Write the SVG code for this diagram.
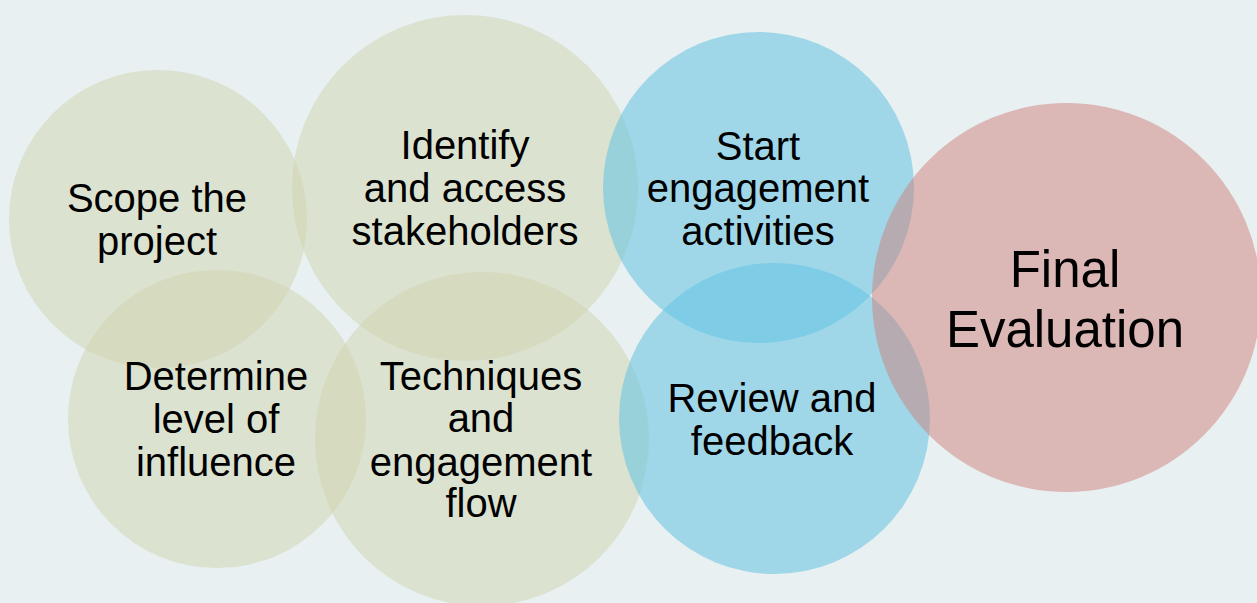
<svg xmlns="http://www.w3.org/2000/svg" width="1257" height="603" viewBox="0 0 1257 603">
<style>
.g{fill:#D0D4AE;fill-opacity:0.5}
.b{fill:#62C2E2;fill-opacity:0.55}
.p{fill:#CE807A;fill-opacity:0.5}
text{font-family:"Liberation Sans",Arial,sans-serif;font-size:40px;fill:#000;text-anchor:middle}
.big{font-size:51px}
</style>
<rect width="1257" height="603" fill="#E8F0F2"/>
<g id="scope"><circle class="g" cx="158" cy="219" r="149"/></g>
<g id="identify"><circle class="g" cx="465" cy="188" r="173"/></g>
<g id="determine"><circle class="g" cx="217" cy="419" r="149"/></g>
<g id="techniques"><circle class="g" cx="482" cy="439" r="167"/></g>
<g id="start"><circle class="b" cx="758.5" cy="187.5" r="155.5"/></g>
<g id="review"><circle class="b" cx="774.5" cy="418.5" r="155.5"/></g>
<g id="final"><circle class="p" cx="1066.5" cy="297.5" r="194.5"/></g>
<g id="labels">
<text x="157" y="212">Scope the</text>
<text x="157" y="255">project</text>
<text x="465" y="159">Identify</text>
<text x="465" y="202">and access</text>
<text x="465" y="245">stakeholders</text>
<text x="758" y="160">Start</text>
<text x="758" y="202">engagement</text>
<text x="758" y="245">activities</text>
<text x="216" y="390">Determine</text>
<text x="216" y="433">level of</text>
<text x="216" y="476">influence</text>
<text x="481" y="390">Techniques</text>
<text x="481" y="432">and</text>
<text x="481" y="476">engagement</text>
<text x="481" y="517">flow</text>
<text x="772" y="412">Review and</text>
<text x="772" y="455">feedback</text>
<text class="big" x="1065" y="287">Final</text>
<text class="big" x="1065" y="347">Evaluation</text>
</g>
</svg>
